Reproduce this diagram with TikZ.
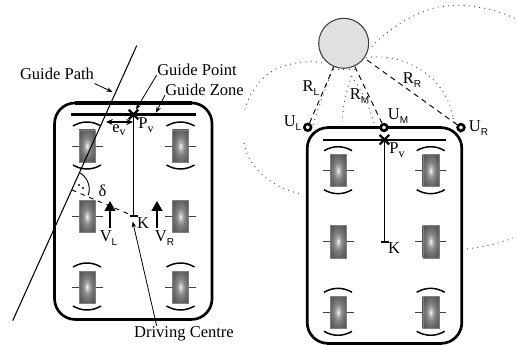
\documentclass[tikz,border=0pt]{standalone}
\usepackage{fontspec}
\setmainfont{Liberation Serif}
\newfontfamily\subsans{Liberation Sans}
\usetikzlibrary{arrows.meta,shapes.misc}
\pgfdeclareradialshading{wheelglow}{\pgfpoint{0bp}{0bp}}{%
  color(0bp)=(black!2);
  color(6bp)=(black!30);
  color(14bp)=(black!50);
  color(28bp)=(black!64);
  color(50bp)=(black!76);
  color(75bp)=(black!88)}
\newcommand{\sbs}[1]{\raisebox{-2.6pt}{\subsans\fontsize{7.5}{8}\selectfont #1}}
\newcommand{\sbv}[1]{\raisebox{-2.6pt}{\fontsize{9}{9}\selectfont #1}}
\tikzset{
  lbl/.style={inner sep=0pt,font=\fontsize{12.4}{14}\selectfont},
  body/.style={draw,line width=2pt,rounded corners=15.5pt,outer sep=0pt,inner sep=0pt},
  heavy/.style={line width=2.8pt},
  zone/.style={line width=1.7pt},
  thin line/.style={line width=.8pt},
  leader/.style={line width=.6pt,-{Stealth[length=4.5pt,width=3.4pt]}},
  dist/.style={line width=.9pt,{Stealth[length=5pt,width=4.4pt]}-{Stealth[length=5pt,width=4.4pt]}},
  speed/.style={line width=1.6pt,-{Triangle[length=7.5pt,width=8pt]}},
  rdash/.style={line width=.7pt,dash pattern=on 4pt off 3.2pt},
  ddash/.style={line width=.7pt,dash pattern=on 3.4pt off 3.6pt},
  dots/.style={line width=.7pt,dash pattern=on .7pt off 3.2pt,black!70},
  wheelbox/.style={shading=wheelglow,draw=black!50,line width=.3pt,
    minimum width=12pt,minimum height=24pt,inner sep=0pt,outer sep=0pt},
  ring/.style={circle,draw,line width=2pt,fill=white,minimum size=5pt,inner sep=0pt},
  crossmark/.style={cross out,draw,line width=1.7pt,minimum size=5.5pt,inner sep=0pt},
  fender/.style={line width=1.1pt},
  axle/.style={line width=.7pt,black!75},
}
\newcommand{\wheelat}[3]{%
  \draw[axle] (#2-15.5,#3) -- (#2+15.5,#3);
  \node[wheelbox] (#1) at (#2,#3) {};}
\newcommand{\fenders}[2]{%
  \draw[fender] (#1-14,#2-20) .. controls (#1-5,#2-25.3) and (#1+5,#2-25.3) .. (#1+14,#2-20);
  \draw[fender] (#1-14,#2+19) .. controls (#1-5,#2+24.3) and (#1+5,#2+24.3) .. (#1+14,#2+19);}
\begin{document}
\begin{tikzpicture}[x=.75pt,y=-.75pt]
\useasboundingbox (0,0) rectangle (517,345);
% ---------- left vehicle
\node[body,minimum width=118.1pt,minimum height=162.4pt] (bodyL) at (133.3,211.2) {};
\draw[heavy] ([xshift=15pt]bodyL.north west) -- ([xshift=-15pt]bodyL.north east);
\draw[heavy] ([xshift=15pt]bodyL.south west) -- ([xshift=-15pt]bodyL.south east);
\wheelat{wL1}{87}{146}\wheelat{wR1}{180.5}{146}
\wheelat{wL2}{87}{216.7}\wheelat{wR2}{180.5}{216.7}
\wheelat{wL3}{87}{287}\wheelat{wR3}{180.5}{287}
\fenders{87}{146}\fenders{180.5}{146}\fenders{87}{287}\fenders{180.5}{287}
\coordinate (zoneLa) at (71,114.5);
\coordinate (zoneLb) at (196,114.5);
\draw[zone] (zoneLa) -- (zoneLb);
\node[crossmark] (crossL) at (133.5,114.5) {};
\coordinate (kL) at (133.5,216);
\coordinate (kLa) at (130,216);
\coordinate (kLb) at (137.5,216);
\draw[thin line] (crossL.center) -- (kL);
\draw[line width=1.3pt] (kLa) -- (kLb);
% guide path
\coordinate (pathTop) at (136.7,45.7);
\coordinate (pathBot) at (12.7,320.7);
\coordinate (foot) at (72,190);
\draw[line width=.8pt] (pathTop) -- (pathBot);
\draw[ddash] (foot) -- (kL);
\coordinate (angA) at (80,173);
\coordinate (angB) at (88,195.5);
\draw[line width=.7pt] (angA) .. controls (86,176) and (92,186) .. (angB);
\fill (79,185) circle (.8pt);
\fill (83,188) circle (.8pt);
% labels, left
\node[lbl] (gpath) at (57,74) {Guide Path};
\node[lbl,anchor=west] (gpoint) at (157,70) {Guide Point};
\node[lbl,anchor=west] (gzone) at (165,90) {Guide Zone};
\node[lbl] (ev) at (119,130) {e\sbv{v}};
\node[lbl] (pvL) at (146,125) {P\sbv{v}};
\node[lbl] (kLabel) at (143,223) {K};
\node[lbl] (delta) at (102.5,191) {δ};
\node[lbl] (vl) at (108.5,238) {V\sbs{L}};
\node[lbl] (vr) at (164.5,238) {V\sbs{R}};
\node[lbl] (dc) at (184,334) {Driving Centre};
\coordinate (a1) at (94.5,83.5);
\coordinate (a2) at (112.5,92);
\draw[leader] (a1) -- (a2);
\coordinate (a3) at (156.7,75);
\coordinate (a4) at (136,109.5);
\draw[leader] (a3) -- (a4);
\coordinate (a5) at (165,95);
\coordinate (a6) at (156,112.7);
\draw[leader] (a5) -- (a6);
\coordinate (a7) at (106,122);
\coordinate (a8) at (133,122);
\draw[dist] (a7) -- (a8);
\coordinate (a9) at (156.7,326);
\coordinate (a10) at (132.7,221.5);
\draw[leader] (a9) -- (a10);
\coordinate (v1a) at (110,228);
\coordinate (v1b) at (110,201);
\coordinate (v2a) at (157,228);
\coordinate (v2b) at (157,201);
\draw[speed] (v1a) -- (v1b);
\draw[speed] (v2a) -- (v2b);
% ---------- right vehicle
\node[body,minimum width=115.9pt,minimum height=161.8pt] (bodyR) at (384.5,235.5) {};
\draw[heavy] ([xshift=15pt]bodyR.north west) -- ([xshift=-15pt]bodyR.north east);
\draw[heavy] ([xshift=15pt]bodyR.south west) -- ([xshift=-15pt]bodyR.south east);
\wheelat{rL1}{338}{170.7}\wheelat{rR1}{430.7}{170.7}
\wheelat{rL2}{338}{241.7}\wheelat{rR2}{430.7}{241.7}
\wheelat{rL3}{338}{312.3}\wheelat{rR3}{430.7}{312.3}
\fenders{338}{170.7}\fenders{430.7}{170.7}\fenders{338}{312.3}\fenders{430.7}{312.3}
\coordinate (zoneRa) at (323,139.7);
\coordinate (zoneRb) at (446,139.7);
\draw[zone] (zoneRa) -- (zoneRb);
\node[crossmark] (crossR) at (384.4,139.7) {};
\coordinate (kR) at (384.4,241.7);
\coordinate (kRa) at (380.5,241.7);
\coordinate (kRb) at (388.5,241.7);
\draw[thin line] (crossR.center) -- (kR);
\draw[line width=1.3pt] (kRa) -- (kRb);
% dotted curves
\draw[dots] (322,63) .. controls (310,60) and (295,62) .. (278,68)
  .. controls (265,74) and (250,88) .. (244,112.7);
\draw[dots] (244,143) .. controls (247,165) and (270,188) .. (302,194);
\draw[dots] (467,249) .. controls (482,247) and (498,244) .. (513,238);
\draw[dots] (371.7,46.7) .. controls (385,32) and (410,14) .. (437,7.3)
  .. controls (460,3) and (490,6) .. (516.7,19.3);
\draw[dots] (366,58) .. controls (395,52) and (445,70) .. (453,118);
\coordinate (d1) at (352,76);
\draw[dots] (d1) .. controls (346,90) and (343,105) .. (342.5,122);
\draw[dots] (332,70) .. controls (326,88) and (318,108) .. (313,125);
\draw[dots] (351,76) .. controls (362,90) and (370,108) .. (374,123);
\draw[dots] (333,69.5) -- (354,69.5);
\draw[dots] (453,118) -- (462,136);
% sun and U nodes
\node[circle,draw=black!75,line width=.8pt,fill=black!12,minimum size=37.5pt,inner sep=0pt] (sun) at (343.7,43.3) {};
\node[ring] (ul) at (307.7,127.3) {};
\node[ring] (um) at (384,127.5) {};
\node[ring] (ur) at (461,127.5) {};
\draw[rdash] (ul) -- (sun);
\draw[rdash] (um) -- (sun);
\draw[rdash] (ur) -- (sun);
% labels, right
\node[lbl] (ulL) at (292.5,123) {U\sbs{L}};
\node[lbl] (umL) at (398,116) {U\sbs{M}};
\node[lbl] (urL) at (478.5,128) {U\sbs{R}};
\node[lbl] (rlL) at (311,88) {R\sbs{L}};
\node[lbl] (rmL) at (359.5,96) {R\sbs{M}};
\node[lbl] (rrL) at (412,80) {R\sbs{R}};
\node[lbl] (pvR) at (397,150) {P\sbv{v}};
\node[lbl] (kRLabel) at (394,248) {K};
\end{tikzpicture}
\end{document}
